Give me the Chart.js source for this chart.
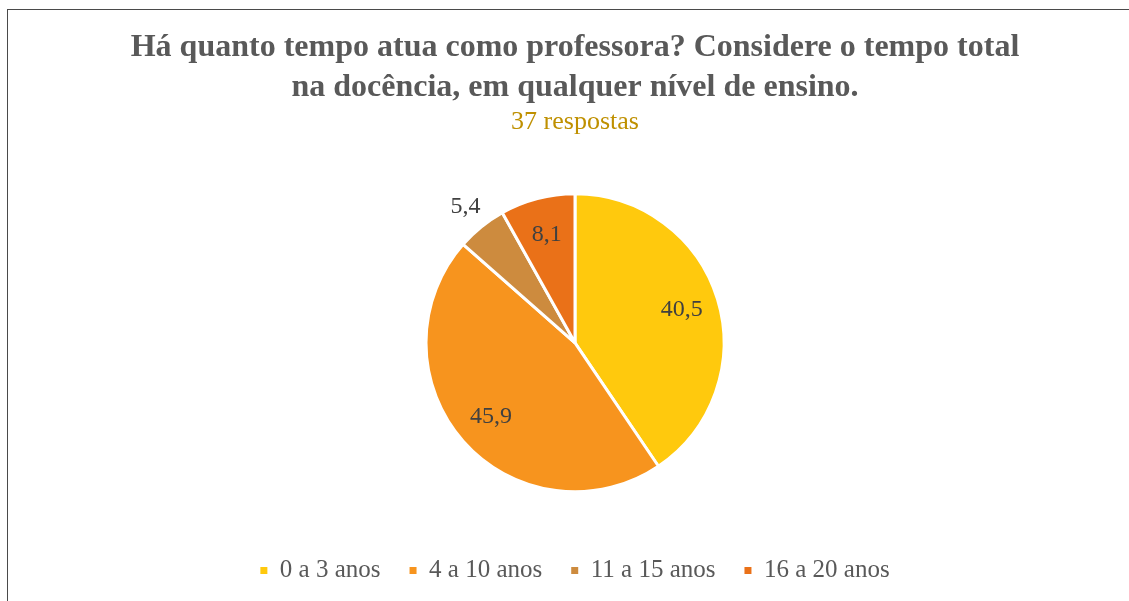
<!DOCTYPE html>
<html>
<head>
<meta charset="utf-8">
<script src="https://cdn.jsdelivr.net/npm/chart.js@4"></script>
<style>
  html, body { margin: 0; padding: 0; background: #fff; }
  #wrap { position: relative; width: 1129px; height: 601px; overflow: hidden; }
  #frame { position: absolute; left: 7px; top: 9px; width: 1200px; height: 700px;
           border-left: 1.5px solid #4a4a4a; border-top: 1.5px solid #4a4a4a; }
  canvas { position: absolute; left: 0; top: 0; }
</style>
</head>
<body>
<div id="wrap">
  <div id="frame"></div>
  <canvas id="pieChart" width="1129" height="601"></canvas>
</div>
<script>
// data (percent of 37 answers)
const categories = ['0 a 3 anos', '4 a 10 anos', '11 a 15 anos', '16 a 20 anos'];
const percents = [40.5, 45.9, 5.4, 8.1];
const sliceColors = ['#FFC90D', '#F7941E', '#CD8B3E', '#EA7118'];
const titleLines = ['Há quanto tempo atua como professora? Considere o tempo total', 'na docência, em qualquer nível de ensino.'];
const subtitleText = '37 respostas';

const serif = '"Liberation Serif", "Times New Roman", serif';

// simple label plugin, small slices get the label outside like Excel's best fit
const sliceLabels = {
    id: 'sliceLabels',
    afterDatasetsDraw(chart) {
        const ctx = chart.ctx;
        const meta = chart.getDatasetMeta(0);
        ctx.save();
        ctx.font = '24px ' + serif;
        ctx.fillStyle = '#404040';
        ctx.textAlign = 'center';
        ctx.textBaseline = 'middle';
        meta.data.forEach((arc, i) => {
            const p = arc.getProps(['x', 'y', 'startAngle', 'endAngle', 'outerRadius'], true);
            const mid = (p.startAngle + p.endAngle) / 2;
            const r = percents[i] < 6 ? p.outerRadius * 1.17 : p.outerRadius * 0.75;
            const x = p.x + Math.cos(mid) * r;
            const y = p.y + Math.sin(mid) * r;
            ctx.fillText(percents[i].toFixed(1).replace('.', ','), x, y);
        });
        ctx.restore();
    }
};

const defaultLabels = Chart.overrides.pie.plugins.legend.labels.generateLabels;

new Chart(document.getElementById('pieChart'), {
    type: 'pie',
    data: {
        labels: categories,
        datasets: [{
            data: percents,
            backgroundColor: sliceColors,
            borderColor: '#ffffff',
            borderWidth: 3,
            radius: 149
        }]
    },
    options: {
        responsive: false,
        animation: false,
        layout: { padding: { top: 20, bottom: 8, left: 21, right: 0 } },
        plugins: {
            title: {
                display: true,
                text: titleLines,
                color: '#595959',
                font: { family: serif, size: 32, weight: 'bold', lineHeight: 1.25 },
                padding: { top: 8, bottom: 0 }
            },
            subtitle: {
                display: true,
                text: subtitleText,
                color: '#BF9000',
                font: { family: serif, size: 26, lineHeight: 1.1 },
                padding: { top: 0, bottom: 20 }
            },
            legend: {
                position: 'bottom',
                labels: {
                    color: '#595959',
                    font: { family: serif, size: 25 },
                    boxWidth: 7,
                    boxHeight: 7,
                    padding: 29,
                    generateLabels(chart) {
                        return defaultLabels(chart).map(item => Object.assign(item, { lineWidth: 0 }));
                    }
                }
            },
            tooltip: { enabled: false }
        }
    },
    plugins: [sliceLabels]
});
</script>
</body>
</html>
